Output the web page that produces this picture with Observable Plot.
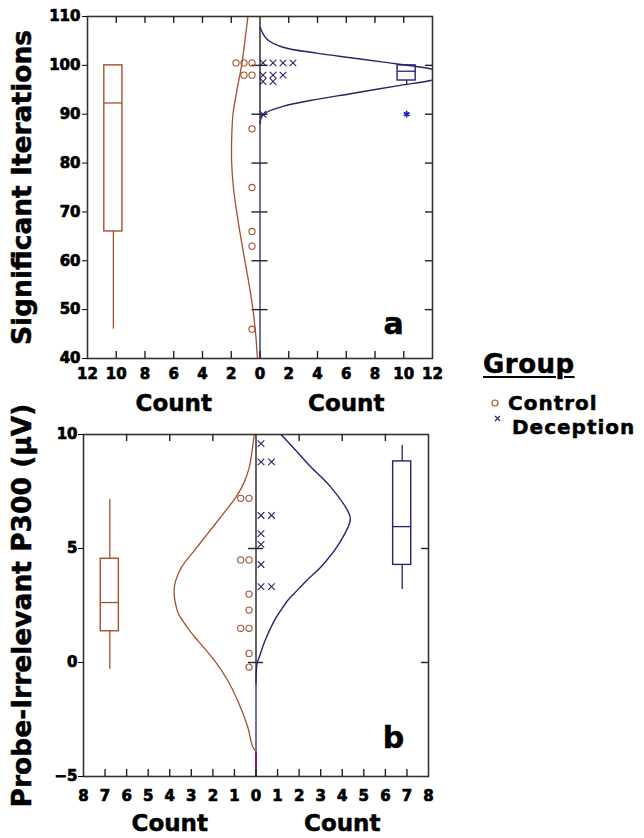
<!DOCTYPE html>
<html><head><meta charset="utf-8">
<script src="https://cdn.jsdelivr.net/npm/d3@7"></script>
<script src="https://cdn.jsdelivr.net/npm/@observablehq/plot@0.6"></script>
<style>
html,body{margin:0;padding:0;background:#fff;}
body{width:644px;height:838px;overflow:hidden;position:relative;font-family:'DejaVu Sans','Liberation Sans',sans-serif;}
#pa{position:absolute;left:0;top:0;}
#pb{position:absolute;left:0;top:418px;}
#pa svg text, #pb svg text{font-weight:bold;stroke:#000;stroke-width:0.5px;}
#pa svg g[aria-label$="tick label"] text, #pb svg g[aria-label$="tick label"] text{font-size:15px;font-family:'DejaVu Sans',sans-serif;font-weight:bold;stroke:#000;stroke-width:0.7px;}
.lg{position:absolute;font-weight:bold;color:#000;white-space:nowrap;-webkit-text-stroke:0.5px #000;}
</style></head><body>
<div id="pa"></div><div id="pb"></div>
<div class="lg" style="left:483px;top:351px;font-size:26px;line-height:26px;text-decoration:underline;text-decoration-thickness:2px;text-underline-offset:3px;letter-spacing:0.5px">Group</div>
<div class="lg" style="left:508px;top:392.6px;font-size:20px;line-height:20px;letter-spacing:1px">Control</div>
<div class="lg" style="left:512px;top:416.6px;font-size:20px;line-height:20px;letter-spacing:1px">Deception</div>
<svg id="lgm" style="position:absolute;left:485px;top:394px" width="22" height="32"></svg>
<script>
// ---------- styles ----------
const BROWN = "#a3502f";
const NAVY = "#24246e";
const INK = "#222";
const MAGENTA = "#8a1f6e";
const FONT = "'DejaVu Sans','Liberation Sans',sans-serif";
const NUMFONT = "'DejaVu Sans',sans-serif";

// ---------- panel a data ----------
const aYTicks = [40, 50, 60, 70, 80, 90, 100, 110];
const aXTicks = [-12, -10, -8, -6, -4, -2, 0, 2, 4, 6, 8, 10, 12];
const aInnerYTicks = [50, 60, 70, 80, 90, 100];
const aControl = [100.5, 100.5, 100.5, 98, 98, 87, 75, 66, 63, 46];
const aDeception = [100.5, 100.5, 100.5, 100.5, 98, 98, 98, 96.7, 96.7, 90];
const aControlCurveY = [110, 105, 100, 95, 90, 85, 80, 75, 70, 65, 60, 55, 50, 45, 40];
const aControlCurveCount = [0.84, 1.05, 1.28, 1.6, 1.88, 1.97, 1.97, 1.85, 1.62, 1.35, 1.05, 0.75, 0.49, 0.3, 0.18];
const aDeceptionCurveY = [107.8, 105.4, 103.7, 102.5, 101.55, 100.65, 99.3, 98.2, 96.9, 95.9, 94.2, 92.8, 91.6, 90.4, 89.4, 88];
const aDeceptionCurveCount = [0, 0.47, 1.6, 3.95, 6.3, 8.6, 11.85, 13.2, 11.85, 9.75, 6.3, 3.5, 1.6, 0.47, 0.1, 0];
// box stats: [lower whisker, Q1, median, Q3, upper whisker]
const aControlBox = [46, 66, 92.3, 100, 100];
const aDeceptionBox = [95.9, 96.9, 98.8, 100, 100];
const aDeceptionOutliers = [90];

// ---------- panel b data ----------
const bYTicks = [-5, 0, 5, 10];
const bXTicks = [-8, -7, -6, -5, -4, -3, -2, -1, 0, 1, 2, 3, 4, 5, 6, 7, 8];
const bTopTicks = [-6, -4, -2, 2, 4, 6];
const bInnerYTicks = [0, 5];
const bControl = [7.2, 7.2, 4.5, 4.5, 3.0, 2.3, 1.5, 1.5, 0.4, -0.2];
const bDeception = [9.6, 8.8, 8.8, 6.45, 6.45, 5.65, 5.18, 4.3, 3.33, 3.33];
const bControlCurveY = [10, 9.3, 8.57, 7.9, 7.25, 6.4, 5.65, 4.9, 4.18, 3.6, 3.16, 2.72, 2.14, 1.84, 1.4, 0.96, 0.09, -0.79, -1.67, -2.84, -3.71, -3.9];
const bControlCurveCount = [0.08, 0.18, 0.31, 0.55, 0.93, 1.62, 2.24, 2.87, 3.45, 3.72, 3.8, 3.76, 3.6, 3.4, 3.08, 2.7, 1.93, 1.31, 0.85, 0.38, 0.15, 0];
const bDeceptionCurveY = [10, 9.3, 8.57, 7.69, 6.52, 6.23, 5.35, 4.18, 3.6, 3.0, 2.7, 2.14, 1.84, 0.96, 0.23, -0.04, -0.9];
const bDeceptionCurveCount = [1.16, 1.85, 2.55, 3.47, 4.32, 4.37, 3.94, 3.0, 2.35, 1.75, 1.45, 1.05, 0.85, 0.42, 0.15, 0.05, 0];
const bControlBox = [-0.3, 1.37, 2.63, 4.55, 7.15];
const bDeceptionBox = [3.2, 4.28, 5.96, 8.82, 9.52];

// ---------- helpers ----------
function curve(ys, cs, sign) { return ys.map((v, i) => ({v, c: sign * cs[i]})); }
function stack(values, sign, firstPx, stepPx, cPerPx) {
  const seen = new Map();
  return values.map(v => { const i = seen.get(v) || 0; seen.set(v, i + 1); return {v, c: sign * (firstPx + i * stepPx) * cPerPx}; });
}
function boxMarks(stats, center, half, color) {
  const [lo, q1, med, q3, hi] = stats;
  return [
    Plot.ruleX([center], {y1: q1, y2: lo, stroke: color, strokeWidth: 1.3}),
    Plot.ruleX([center], {y1: q3, y2: hi, stroke: color, strokeWidth: 1.3}),
    Plot.rect([stats], {x1: center - half, x2: center + half, y1: q1, y2: q3, stroke: color, fill: "none", strokeWidth: 1.4}),
    Plot.ruleY([med], {x1: center - half, x2: center + half, stroke: color, strokeWidth: 1.3})
  ];
}

function panel(cfg) {
  const fw = 644 - cfg.ml - cfg.mr;
  const fh = cfg.height - cfg.mt - cfg.mb;
  const cPerPx = (2 * cfg.xMax) / fw;
  const yMax = cfg.yDomain[1], yMin = cfg.yDomain[0];
  const dCurve = curve(cfg.dY, cfg.dC, 1);
  const cCurve = curve(cfg.cY, cfg.cC, -1);
  const dLow = d3.min(dCurve.filter(d => d.c > 0), d => d.v);
  const cZeroTop = d3.max(cCurve.filter(d => d.c === 0), d => d.v);
  const marks = [
    // zero line
    Plot.ruleX([0], {y1: yMax, y2: dLow, stroke: INK, strokeWidth: 1.4}),
    Plot.ruleX([0], {y1: dLow, y2: yMin, stroke: NAVY, strokeWidth: 1.3}),
    cZeroTop !== undefined ? Plot.ruleX([0], {y1: cZeroTop, y2: yMin, stroke: MAGENTA, strokeWidth: 2}) : null,
    Plot.ruleY(cfg.innerY, {y: d => d, x1: -cfg.midHalf, x2: cfg.midHalf, stroke: INK, strokeWidth: 1.4}),
    // curves
    Plot.line(cCurve, {x: "c", y: "v", curve: "catmull-rom", stroke: BROWN, strokeWidth: 1.3, clip: true}),
    Plot.line(dCurve, {x: "c", y: "v", curve: "catmull-rom", stroke: NAVY, strokeWidth: 1.4, clip: true}),
    // boxes
    ...boxMarks(cfg.cBox, -cfg.boxAt, cfg.boxHalf, BROWN),
    ...boxMarks(cfg.dBox, cfg.boxAt, cfg.boxHalf, NAVY),
    cfg.outliers ? Plot.dot(cfg.outliers, {x: cfg.boxAt, y: d => d, symbol: "asterisk", r: 3.2, stroke: "#1a1ab4", strokeWidth: 1.6}) : null,
    // dots
    Plot.dot(stack(cfg.control, -1, cfg.cFirst, cfg.cStep, cPerPx), {x: "c", y: "v", symbol: "circle", r: 3.1, stroke: BROWN, strokeWidth: 1.1, fill: "none"}),
    Plot.dot(stack(cfg.deception, 1, cfg.dFirst, cfg.dStep, cPerPx), {x: "c", y: "v", symbol: "times", r: 3.1, stroke: NAVY, strokeWidth: 1.1}),
    // frame and ticks
    Plot.frame({stroke: "#333", strokeWidth: 1.6}),
    Plot.tickX(cfg.topTicks, {x: d => d, insetBottom: fh - 7, stroke: INK, strokeWidth: 1.4}),
    Plot.tickX(cfg.xTicks.filter(d => Math.abs(d) < cfg.xMax), {x: d => d, insetTop: fh - 7, stroke: INK, strokeWidth: 1.4}),
    Plot.tickY(cfg.innerY, {y: d => d, insetLeft: fw - 7, stroke: INK, strokeWidth: 1.4}),
    Plot.axisY(cfg.yTicks, {anchor: "left", tickSize: 5, tickPadding: cfg.yPad, fontSize: 15, fontWeight: "bold", fontFamily: NUMFONT, label: null, color: "#000"}),
    Plot.axisX(cfg.xTicks, {anchor: "bottom", tickSize: 0, tickPadding: cfg.xPad, tickFormat: d => String(Math.abs(d)), fontSize: 15, fontWeight: "bold", fontFamily: NUMFONT, label: null, color: "#000"}),
    // labels
    Plot.text(["Count", "Count"], {x: [-cfg.xMax / 2, cfg.xMax / 2], frameAnchor: "bottom", lineAnchor: "middle", textAnchor: "middle", dy: cfg.countDy, fontSize: 23, fontWeight: "bold", fontFamily: FONT, fill: "#000"}),
    Plot.text([cfg.letter], {frameAnchor: "bottom-right", lineAnchor: "middle", textAnchor: "middle", dx: cfg.letterDx, dy: cfg.letterDy, fontSize: 30, fontWeight: "bold", fontFamily: FONT, fill: "#000"}),
    Plot.text([cfg.title], {frameAnchor: "left", rotate: -90, textAnchor: "middle", lineAnchor: "middle", dx: cfg.titleDx, fontSize: cfg.titleSize, fontWeight: "bold", fontFamily: FONT, fill: "#000"})
  ].filter(Boolean);
  const svg = Plot.plot({
    width: 644, height: cfg.height,
    marginLeft: cfg.ml, marginRight: cfg.mr, marginTop: cfg.mt, marginBottom: cfg.mb,
    x: {domain: [-cfg.xMax, cfg.xMax], label: null},
    y: {domain: cfg.yDomain, label: null},
    style: {overflow: "visible", background: "transparent", fontFamily: FONT, color: "#000"},
    marks
  });
  return svg;
}

document.getElementById("pa").append(panel({
  height: 418, ml: 87, mr: 212, mt: 16, mb: 60,
  xMax: 12, yDomain: [40, 110], yTicks: aYTicks, xTicks: aXTicks,
  topTicks: aXTicks.filter(d => d !== 0 && Math.abs(d) < 12), innerY: aInnerYTicks, midHalf: 0.56,
  control: aControl, deception: aDeception,
  cY: aControlCurveY, cC: aControlCurveCount, dY: aDeceptionCurveY, dC: aDeceptionCurveCount,
  cBox: aControlBox, dBox: aDeceptionBox, outliers: aDeceptionOutliers,
  boxAt: 10.2, boxHalf: 0.63,
  cFirst: 8, cStep: 8, dFirst: 3, dStep: 10,
  yPad: 2, xPad: 10, countDy: 45,
  letter: "a", letterDx: -39, letterDy: -34,
  title: "Significant Iterations", titleDx: -65, titleSize: 26.5
}));

document.getElementById("pb").append(panel({
  height: 420, ml: 83, mr: 216, mt: 16, mb: 62,
  xMax: 8, yDomain: [-5, 10], yTicks: bYTicks, xTicks: bXTicks,
  topTicks: bTopTicks, innerY: bInnerYTicks, midHalf: 0.35,
  control: bControl, deception: bDeception,
  cY: bControlCurveY, cC: bControlCurveCount, dY: bDeceptionCurveY, dC: bDeceptionCurveCount,
  cBox: bControlBox, dBox: bDeceptionBox, outliers: null,
  boxAt: 6.78, boxHalf: 0.42,
  cFirst: 7, cStep: 8.3, dFirst: 5, dStep: 10.5,
  yPad: 1, xPad: 14, countDy: 47,
  letter: "b", letterDx: -35, letterDy: -38,
  title: "Probe-Irrelevant P300 (\u03bcV)", titleDx: -61, titleSize: 26.5
}));

// legend markers
const lg = d3.select("#lgm");
lg.append("circle").attr("cx", 10).attr("cy", 9).attr("r", 3).attr("fill", "none").attr("stroke", BROWN).attr("stroke-width", 1.1);
lg.append("path").attr("d", "M10,22 L15,27 M15,22 L10,27").attr("stroke", NAVY).attr("stroke-width", 1.1);
</script>
</body></html>
